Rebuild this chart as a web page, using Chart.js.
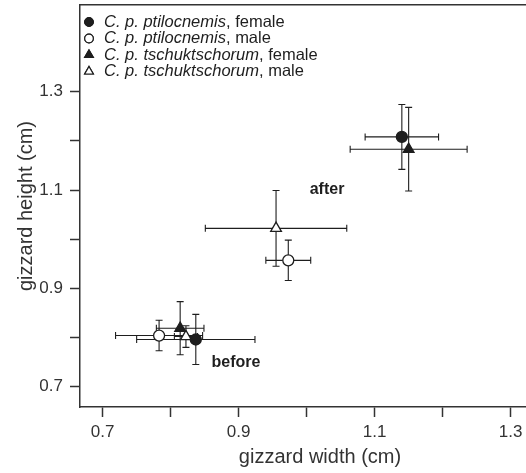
<!DOCTYPE html>
<html>
<head>
<meta charset="utf-8">
<script src="https://cdn.jsdelivr.net/npm/chart.js@4"></script>
<style>
  html, body { margin: 0; padding: 0; background: #fff; overflow: hidden; }
  canvas { display: block; }
</style>
</head>
<body>
<canvas id="chart" width="560" height="473"></canvas>
<script>
// each series: [before, after] means with their error half-widths (cm)
const ptilFemaleWidth = [0.837, 1.140];
const ptilFemaleHeight = [0.796, 1.208];
const ptilFemaleWidthErr = [0.087, 0.054];
const ptilFemaleHeightErr = [0.051, 0.066];

const ptilMaleWidth = [0.783, 0.973];
const ptilMaleHeight = [0.804, 0.957];
const ptilMaleWidthErr = [0.064, 0.033];
const ptilMaleHeightErr = [0.031, 0.041];

const tschFemaleWidth = [0.814, 1.150];
const tschFemaleHeight = [0.819, 1.183];
const tschFemaleWidthErr = [0.035, 0.086];
const tschFemaleHeightErr = [0.054, 0.085];

const tschMaleWidth = [0.8225, 0.955];
const tschMaleHeight = [0.802, 1.022];
const tschMaleWidthErr = [0.017, 0.104];
const tschMaleHeightErr = [0.022, 0.077];

const seriesNames = ['C. p. ptilocnemis', 'C. p. ptilocnemis', 'C. p. tschuktschorum', 'C. p. tschuktschorum'];
const seriesSex = ['female', 'male', 'female', 'male'];

const periodLabels = ['before', 'after'];
const periodLabelWidth = [0.896, 1.030];
const periodLabelHeight = [0.748, 1.100];

const xTicks = [0.7, 0.8, 0.9, 1.0, 1.1, 1.2, 1.3];
const yTicks = [0.7, 0.8, 0.9, 1.0, 1.1, 1.2, 1.3];
const labelledTicks = [0.7, 0.9, 1.1, 1.3];

const FONT = "'Liberation Sans', Arial, Helvetica, sans-serif";
const INK = '#1e1e1e';
const AXIS = '#333';

function toPoints(xs, ys) {
  return xs.map((x, i) => ({ x: x, y: ys[i] }));
}

function makeSeries(i, xs, ys, xErr, yErr, style, filled) {
  return {
    label: seriesNames[i] + ', ' + seriesSex[i],
    data: toPoints(xs, ys),
    xErr: xErr,
    yErr: yErr,
    pointStyle: style,
    pointRadius: style === 'triangle' ? 6.2 : 5.5,
    pointBorderWidth: 1.3,
    pointBackgroundColor: filled ? INK : '#fff',
    pointBorderColor: INK,
    showLine: false
  };
}

const datasets = [
  makeSeries(0, ptilFemaleWidth, ptilFemaleHeight, ptilFemaleWidthErr, ptilFemaleHeightErr, 'circle', true),
  makeSeries(1, ptilMaleWidth, ptilMaleHeight, ptilMaleWidthErr, ptilMaleHeightErr, 'circle', false),
  makeSeries(2, tschFemaleWidth, tschFemaleHeight, tschFemaleWidthErr, tschFemaleHeightErr, 'triangle', true),
  makeSeries(3, tschMaleWidth, tschMaleHeight, tschMaleWidthErr, tschMaleHeightErr, 'triangle', false)
];

// error bars behind the markers
const errorBars = {
  id: 'errorBars',
  beforeDatasetsDraw(chart) {
    const { ctx, scales: { x, y } } = chart;
    const cap = 3.5;
    ctx.save();
    ctx.strokeStyle = INK;
    ctx.lineWidth = 1.1;
    chart.data.datasets.forEach((ds) => {
      ds.data.forEach((p, i) => {
        const cx = x.getPixelForValue(p.x);
        const cy = y.getPixelForValue(p.y);
        const x0 = x.getPixelForValue(p.x - ds.xErr[i]);
        const x1 = x.getPixelForValue(p.x + ds.xErr[i]);
        const y0 = y.getPixelForValue(p.y - ds.yErr[i]);
        const y1 = y.getPixelForValue(p.y + ds.yErr[i]);
        ctx.beginPath();
        ctx.moveTo(x0, cy); ctx.lineTo(x1, cy);
        ctx.moveTo(x0, cy - cap); ctx.lineTo(x0, cy + cap);
        ctx.moveTo(x1, cy - cap); ctx.lineTo(x1, cy + cap);
        ctx.moveTo(cx, y0); ctx.lineTo(cx, y1);
        ctx.moveTo(cx - cap, y0); ctx.lineTo(cx + cap, y0);
        ctx.moveTo(cx - cap, y1); ctx.lineTo(cx + cap, y1);
        ctx.stroke();
      });
    });
    ctx.restore();
  }
};

// "before" / "after" labels and the legend with italic names
const annotations = {
  id: 'annotations',
  afterDraw(chart) {
    const { ctx, chartArea, scales: { x, y } } = chart;
    ctx.save();
    ctx.fillStyle = INK;
    ctx.font = 'bold 16px ' + FONT;
    ctx.textAlign = 'center';
    ctx.textBaseline = 'middle';
    periodLabels.forEach((t, i) => {
      ctx.fillText(t, x.getPixelForValue(periodLabelWidth[i]), y.getPixelForValue(periodLabelHeight[i]));
    });

    ctx.textAlign = 'left';
    const markX = chartArea.left + 9;
    const textX = chartArea.left + 24;
    chart.data.datasets.forEach((ds, i) => {
      const rowY = chartArea.top + 17 + i * 16.5;
      Chart.helpers.drawPoint(ctx, {
        pointStyle: ds.pointStyle,
        radius: ds.pointStyle === 'triangle' ? 5 : 4.3,
        borderWidth: 1.2,
        rotation: 0
      }, markX, rowY);
      ctx.fillStyle = ds.pointBackgroundColor;
      ctx.strokeStyle = INK;
      ctx.lineWidth = 1.2;
      ctx.fill();
      ctx.stroke();

      ctx.fillStyle = INK;
      ctx.font = 'italic 16.5px ' + FONT;
      ctx.fillText(seriesNames[i], textX, rowY);
      const w = ctx.measureText(seriesNames[i]).width;
      ctx.font = '16.5px ' + FONT;
      ctx.fillText(', ' + seriesSex[i], textX + w, rowY);
    });
    ctx.restore();
  }
};

const xMin = 0.6667, xMax = 0.6667 + 480 / 680;
const yMin = 0.6587, yMax = 0.6587 + 402 / 491.7;

new Chart(document.getElementById('chart'), {
  type: 'scatter',
  data: { datasets: datasets },
  options: {
    responsive: false,
    animation: false,
    devicePixelRatio: 1,
    layout: { padding: 0, autoPadding: false },
    plugins: { legend: { display: false }, tooltip: { enabled: false } },
    scales: {
      x: {
        type: 'linear',
        position: 'bottom',
        min: xMin,
        max: xMax,
        afterBuildTicks: (s) => { s.ticks = xTicks.map(v => ({ value: v })); },
        afterFit: (s) => { s.height = 66; s.paddingLeft = 0; s.paddingRight = 0; },
        ticks: {
          padding: 5,
          color: AXIS,
          font: { family: FONT, size: 17 },
          maxRotation: 0,
          autoSkip: false,
          callback: (v) => labelledTicks.some(t => Math.abs(t - v) < 1e-6) ? v.toFixed(1) : ''
        },
        grid: { drawOnChartArea: false, tickLength: 10, tickColor: AXIS, tickWidth: 1.5 },
        border: { display: true, color: AXIS, width: 1.5 },
        title: {
          display: true,
          text: 'gizzard width (cm)',
          color: AXIS,
          font: { family: FONT, size: 20 },
          padding: { top: 2, bottom: 4 }
        }
      },
      xTop: {
        type: 'linear',
        position: 'top',
        min: xMin,
        max: xMax,
        afterFit: (s) => { s.height = 5; s.paddingLeft = 0; s.paddingRight = 0; },
        ticks: { display: false },
        grid: { drawOnChartArea: false, drawTicks: false },
        border: { display: true, color: AXIS, width: 1.5 }
      },
      y: {
        type: 'linear',
        position: 'left',
        min: yMin,
        max: yMax,
        afterBuildTicks: (s) => { s.ticks = yTicks.map(v => ({ value: v })); },
        afterFit: (s) => { s.width = 80; s.paddingTop = 0; s.paddingBottom = 0; },
        ticks: {
          padding: 7,
          color: AXIS,
          font: { family: FONT, size: 17 },
          autoSkip: false,
          callback: (v) => labelledTicks.some(t => Math.abs(t - v) < 1e-6) ? v.toFixed(1) : ''
        },
        grid: { drawOnChartArea: false, tickLength: 10, tickColor: AXIS, tickWidth: 1.5 },
        border: { display: true, color: AXIS, width: 1.5 },
        title: {
          display: true,
          text: 'gizzard height (cm)',
          color: AXIS,
          font: { family: FONT, size: 20 },
          padding: { top: 14, bottom: 0 }
        }
      }
    }
  },
  plugins: [errorBars, annotations]
});
</script>
</body>
</html>
